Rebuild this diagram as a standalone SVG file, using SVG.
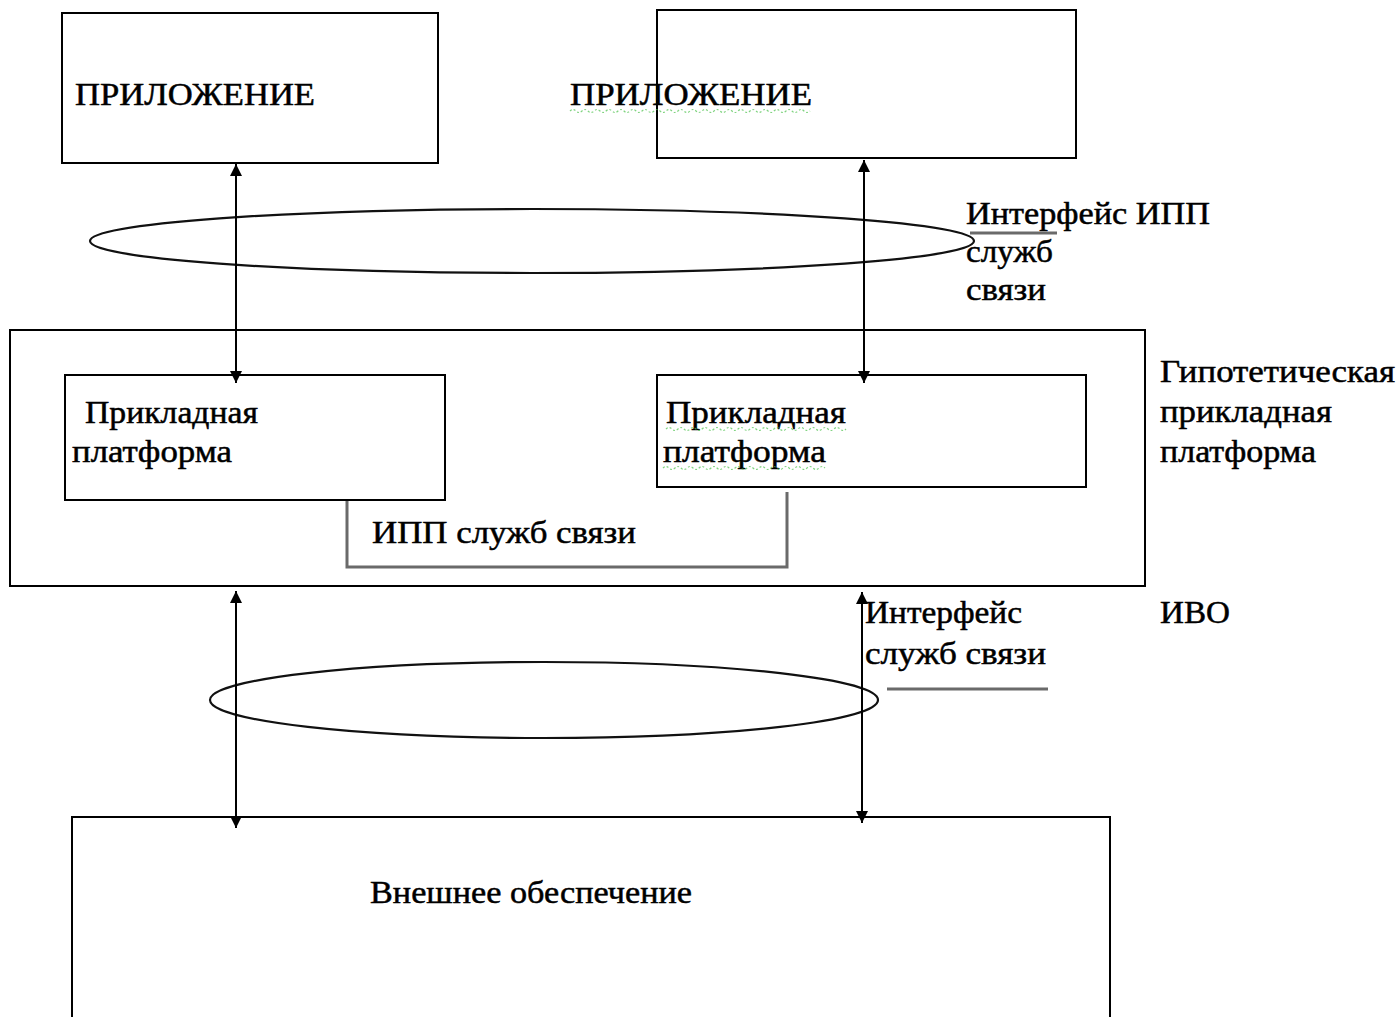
<svg xmlns="http://www.w3.org/2000/svg" width="1400" height="1017" viewBox="0 0 1400 1017">
  <style>
    .box { fill: none; stroke: #000; stroke-width: 2; }
    .oval { fill: none; stroke: #111; stroke-width: 2.2; }
    .lbl { font-family: "Liberation Serif", "Times New Roman", serif; font-size: 31px; fill: #000; stroke: #000; stroke-width: 0.5; }
    .arr { stroke: #000; stroke-width: 2; fill: none; marker-start: url(#head); marker-end: url(#head); }
    .gray { stroke: #6a6a6a; stroke-width: 3; fill: none; }
    .squig { stroke: #4cc24c; stroke-width: 1.2; fill: none; stroke-dasharray: 2 2; opacity: 0.7; }
  </style>
  <defs>
    <marker id="head" viewBox="0 0 10 10" refX="10" refY="5" markerWidth="13" markerHeight="12" markerUnits="userSpaceOnUse" orient="auto-start-reverse">
      <path d="M0,0 L10,5 L0,10 Z" fill="#000"/>
    </marker>
  </defs>
  <rect width="1400" height="1017" fill="#fff"/>

  <!-- upper applications -->
  <g id="app-left">
    <rect class="box" x="62" y="13" width="376" height="150"/>
    <text class="lbl" x="75" y="105" textLength="240" lengthAdjust="spacingAndGlyphs">ПРИЛОЖЕНИЕ</text>
  </g>
  <g id="app-right">
    <rect class="box" x="657" y="10" width="419" height="148"/>
    <text class="lbl" x="570" y="105" textLength="242" lengthAdjust="spacingAndGlyphs">ПРИЛОЖЕНИЕ</text>
    <path class="squig" d="M570,111 q3,-3 6,0 t6,0 t6,0 t6,0 t6,0 t6,0 t6,0 t6,0 t6,0 t6,0 t6,0 t6,0 t6,0 t6,0 t6,0 t6,0 t6,0 t6,0 t6,0 t6,0 t6,0 t6,0 t6,0 t6,0 t6,0 t6,0 t6,0 t6,0 t6,0 t6,0 t6,0 t6,0 t6,0 t6,0 t6,0 t6,0 t6,0 t6,0 t6,0 t6,0"/>
  </g>

  <!-- API interface oval and label -->
  <g id="api-interface">
    <ellipse class="oval" cx="532" cy="241" rx="442" ry="32"/>
    <text class="lbl" x="966" y="224" textLength="244" lengthAdjust="spacingAndGlyphs">Интерфейс ИПП</text>
    <line class="gray" x1="970" y1="233" x2="1057" y2="233"/>
    <text class="lbl" x="966" y="262" textLength="87" lengthAdjust="spacingAndGlyphs">служб</text>
    <text class="lbl" x="966" y="300" textLength="80" lengthAdjust="spacingAndGlyphs">связи</text>
  </g>

  <!-- hypothetical application platform -->
  <g id="platform">
    <rect class="box" x="10" y="330" width="1135" height="256"/>
    <text class="lbl" x="1160" y="382" textLength="235" lengthAdjust="spacingAndGlyphs">Гипотетическая</text>
    <text class="lbl" x="1160" y="422" textLength="172" lengthAdjust="spacingAndGlyphs">прикладная</text>
    <text class="lbl" x="1160" y="462" textLength="156" lengthAdjust="spacingAndGlyphs">платформа</text>
  </g>
  <g id="platform-left">
    <rect class="box" x="65" y="375" width="380" height="125"/>
    <text class="lbl" x="85" y="423" textLength="173" lengthAdjust="spacingAndGlyphs">Прикладная</text>
    <text class="lbl" x="72" y="462" textLength="160" lengthAdjust="spacingAndGlyphs">платформа</text>
  </g>
  <g id="platform-right">
    <rect class="box" x="657" y="375" width="429" height="112"/>
    <text class="lbl" x="666" y="423" textLength="180" lengthAdjust="spacingAndGlyphs">Прикладная</text>
    <text class="lbl" x="663" y="462" textLength="163" lengthAdjust="spacingAndGlyphs">платформа</text>
    <path class="squig" d="M666,429 q3,-3 6,0 t6,0 t6,0 t6,0 t6,0 t6,0 t6,0 t6,0 t6,0 t6,0 t6,0 t6,0 t6,0 t6,0 t6,0 t6,0 t6,0 t6,0 t6,0 t6,0 t6,0 t6,0 t6,0 t6,0 t6,0 t6,0 t6,0 t6,0 t6,0 t6,0"/>
    <path class="squig" d="M663,468 q3,-3 6,0 t6,0 t6,0 t6,0 t6,0 t6,0 t6,0 t6,0 t6,0 t6,0 t6,0 t6,0 t6,0 t6,0 t6,0 t6,0 t6,0 t6,0 t6,0 t6,0 t6,0 t6,0 t6,0 t6,0 t6,0 t6,0 t6,0"/>
  </g>
  <g id="comm-api">
    <polyline class="gray" points="347,501 347,567 787,567 787,492"/>
    <text class="lbl" x="372" y="543" textLength="264" lengthAdjust="spacingAndGlyphs">ИПП служб связи</text>
  </g>

  <!-- external interface oval and labels -->
  <g id="ext-interface">
    <ellipse class="oval" cx="544" cy="700" rx="334" ry="38"/>
    <text class="lbl" x="865" y="623" textLength="157" lengthAdjust="spacingAndGlyphs">Интерфейс</text>
    <text class="lbl" x="865" y="664" textLength="181" lengthAdjust="spacingAndGlyphs">служб связи</text>
    <line class="gray" x1="887" y1="689" x2="1048" y2="689"/>
    <text class="lbl" x="1160" y="623" textLength="70" lengthAdjust="spacingAndGlyphs">ИВО</text>
  </g>

  <!-- external environment -->
  <g id="external">
    <rect class="box" x="72" y="817" width="1038" height="210"/>
    <text class="lbl" x="370" y="903" textLength="322" lengthAdjust="spacingAndGlyphs">Внешнее обеспечение</text>
  </g>

  <!-- connectors -->
  <g id="connectors">
    <line class="arr" x1="236" y1="164" x2="236" y2="383"/>
    <line class="arr" x1="864" y1="160" x2="864" y2="383"/>
    <line class="arr" x1="236" y1="591" x2="236" y2="828"/>
    <line class="arr" x1="862" y1="592" x2="862" y2="823"/>
  </g>
</svg>
